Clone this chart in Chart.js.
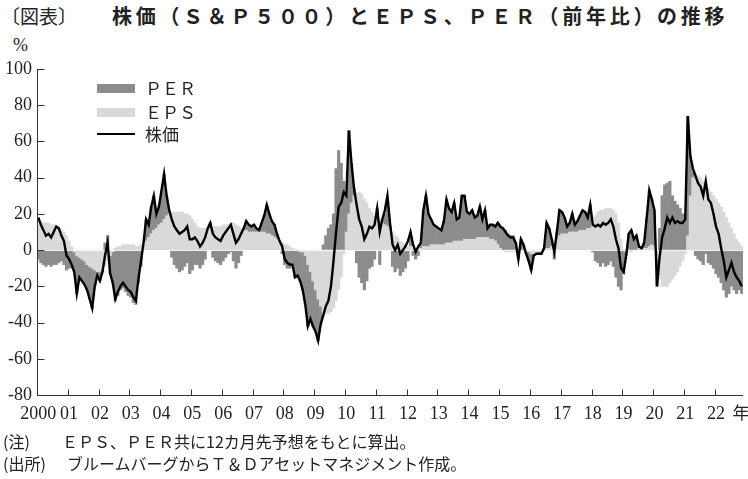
<!DOCTYPE html>
<html>
<head>
<meta charset="utf-8">
<script src="https://cdn.jsdelivr.net/npm/chart.js@4.4.0/dist/chart.umd.min.js"></script>
<style>
  body { margin: 0; width: 748px; height: 479px; position: relative; background: #fff; overflow: hidden; color: #222;
         font-family: "Noto Sans CJK JP", sans-serif; }
  .abs { position: absolute; white-space: nowrap; }
  #wrap { position: absolute; left: 0; top: 0; width: 748px; height: 440px; }
  .sw { position: absolute; left: 97px; width: 38px; }
  .lg { position: absolute; left: 145px; font-size: 17px; line-height: 20px; }
  .note { position: absolute; font-size: 16px; line-height: 20px; }
</style>
</head>
<body>
<div class="abs" style="left:1px;top:3px;font-size:19px;line-height:26px;">〔図表〕</div>
<div class="abs" style="left:112px;top:3px;font-size:20px;line-height:26px;font-weight:bold;letter-spacing:3.7px;">株価（Ｓ＆Ｐ５００）とＥＰＳ、ＰＥＲ（前年比）の推移</div>
<div class="abs" style="left:13px;top:34px;font-size:18px;line-height:22px;font-family:'Liberation Serif',serif;">%</div>

<div id="wrap"><canvas id="chart"></canvas></div>

<div class="sw" style="top:84px;height:9px;background:#8c8c8c;"></div>
<div class="lg" style="top:78px;">ＰＥＲ</div>
<div class="sw" style="top:108px;height:9px;background:#d9d9d9;"></div>
<div class="lg" style="top:102px;">ＥＰＳ</div>
<div class="sw" style="top:133px;height:2px;background:#000;"></div>
<div class="lg" style="top:124px;">株価</div>

<div class="note" style="left:3px;top:431px;">(注)</div>
<div class="note" style="left:62px;top:431px;">ＥＰＳ、ＰＥＲ共に12カ月先予想をもとに算出。</div>
<div class="note" style="left:3px;top:453px;">(出所)</div>
<div class="note" style="left:67px;top:453px;">ブルームバーグからＴ＆Ｄアセットマネジメント作成。</div>

<script>
// year tick labels, one per January
const years = ['2000', '01', '02', '03', '04', '05', '06', '07', '08', '09', '10', '11',
  '12', '13', '14', '15', '16', '17', '18', '19', '20', '21', '22'];

// monthly, Jan 2000 - Nov 2022 (% YoY)
const stock = [
  18, 14, 11, 8, 9, 7, 10, 13, 12, 8, 5, -3,
  -5, -8, -12, -24, -15, -17, -19, -22, -27, -32, -20, -14,
  -17, -12, -3, 4, -13, -18, -27, -23, -20, -18, -20, -22,
  -23, -26, -28, -16, -6, 4, 17, 14, 24, 30, 20, 24,
  33, 42, 30, 22, 17, 13, 11, 9, 10, 11, 13, 6,
  6, 7, 5, 2, 4, 7, 12, 15, 9, 7, 6, 5,
  8, 10, 12, 14, 9, 4, 6, 9, 12, 16, 14, 13,
  14, 12, 11, 15, 19, 25, 20, 16, 14, 9, 5, 2,
  -5, -7, -8, -8, -15, -14, -17, -22, -30, -42, -38, -42,
  -45, -50, -41, -36, -31, -28, -20, -6, 10, 24, 26, 32,
  30, 66, 48, 34, 25, 17, 13, 6, 9, 13, 12, 14,
  23, 10, 17, 22, 30, 15, 3, 0, 3, -2, 0, 2,
  5, 10, 3, -1, 2, 4, 22, 30, 20, 17, 14, 13,
  12, 11, 16, 28, 23, 21, 26, 17, 18, 30, 30, 21,
  20, 22, 18, 19, 24, 17, 22, 12, 14, 14, 13, 15,
  13, 12, 10, 8, 7, 7, 4, -5, 6, 3, -2, -6,
  -11, -3, -2, -2, -2, 1, 15, 12, 6, -1, 10, 22,
  21, 18, 13, 15, 20, 14, 16, 19, 22, 21, 18, 25,
  14, 13, 14, 13, 15, 14, 15, 17, 13, 6, 1, -10,
  -12, -3, 9, 11, 6, 8, 2, 1, 4, 18, 33, 28,
  22, -20, -4, 7, 12, 18, 15, 18, 15, 16, 15, 15,
  17, 74, 52, 45, 41, 37, 35, 30, 38, 28, 26, 20,
  13, 9, 1, -6, -15, -11, -7, -12, -15, -17, -20
];

const eps = [
  14, 15, 15, 15, 15, 14, 14, 13, 12, 11, 10, 8,
  5, 2, -1, -3, -4, -5, -6, -8, -9, -10, -11, -12,
  -12, -11, -9, -6, -3, -1, 1, 2, 2, 3, 3, 3,
  3, 3, 2, 2, 3, 4, 5, 7, 9, 11, 12, 14,
  15, 17, 19, 20, 21, 21, 21, 21, 21, 20, 20, 19,
  17, 15, 13, 12, 12, 12, 12, 12, 13, 13, 13, 13,
  14, 14, 14, 15, 15, 14, 13, 12, 11, 11, 10, 10,
  10, 10, 10, 10, 10, 9, 9, 8, 7, 6, 5, 4,
  3, 3, 2, 1, 0, 0, -1, -1, -3, -8, -12, -17,
  -22, -27, -31, -34, -35, -35, -34, -32, -28, -22, -15, -2,
  10, 20, 26, 30, 32, 32, 31, 28, 26, 23, 21, 19,
  18, 17, 15, 14, 13, 11, 10, 8, 7, 5, 4, 3,
  2, 2, 1, 1, 1, 1, 2, 2, 2, 3, 3, 3,
  3, 3, 3, 4, 4, 4, 5, 5, 5, 5, 6, 6,
  6, 6, 6, 7, 7, 7, 7, 7, 6, 6, 5, 3,
  1, 0, -1, -1, -1, -1, 0, 0, 0, 0, 0, -1,
  -2, -2, -2, -1, -1, 0, 1, 1, 2, 4, 6, 8,
  9, 9, 9, 10, 10, 10, 10, 11, 11, 11, 12, 12,
  15, 19, 21, 22, 22, 23, 23, 23, 22, 20, 15, 6,
  0, -1, -1, -1, 0, 0, 1, 1, 1, 1, 2, 3,
  2, -5, -16, -20, -20, -20, -18, -16, -14, -12, -9, -6,
  -2, 8, 30, 40, 42, 41, 40, 38, 36, 34, 32, 30,
  28, 26, 24, 21, 18, 15, 12, 9, 6, 4, 2
];

const per = [
  -5, -7, -8, -9, -8, -9, -8, -8, -7, -6, -8, -11,
  -10, -10, -11, -21, -11, -12, -13, -14, -18, -22, -9, -2,
  -5, -1, 4, 8, -10, -17, -28, -25, -22, -21, -23, -25,
  -26, -29, -30, -18, -9, 0, 12, 7, 15, 19, 8, 10,
  18, 25, 11, 2, -4, -8, -10, -12, -11, -9, -7, -13,
  -11, -8, -8, -10, -8, -5, 0, 3, -4, -6, -7, -8,
  -6, -4, -2, -1, -6, -10, -7, -3, 1, 5, 4, 3,
  4, 2, 1, 5, 9, 16, 11, 8, 7, 3, 0, -2,
  -8, -10, -10, -9, -15, -14, -16, -21, -27, -34, -26, -25,
  -23, -23, -10, 3, 8, 12, 14, 20, 45, 55, 48, 38,
  20, 46, 22, 4, -7, -15, -18, -22, -17, -10, -9, -5,
  5, -8, 2, 6, 15, 2, -9, -12, -10, -14, -12, -10,
  -6, 6, -3, -5, -3, 2, 20, 28, 18, 14, 11, 10,
  9, 8, 13, 24, 19, 17, 21, 12, 13, 25, 24, 15,
  14, 16, 12, 12, 17, 10, 15, 5, 8, 8, 8, 12,
  12, 12, 11, 9, 8, 8, 4, -5, 6, 3, -2, -5,
  -9, -1, 0, -1, -1, 1, 14, 11, 4, -5, 4, 14,
  12, 9, 4, 5, 10, 4, 6, 8, 11, 10, 6, 13,
  -1, -6, -7, -9, -7, -9, -8, -6, -9, -15, -20, -22,
  -13, -2, 9, 11, 6, 8, 1, 0, 3, 17, 31, 25,
  20, -15, 12, 30, 36, 37, 38, 30, 27, 25, 23, 20,
  18, 66, 22, 3, -3, -5, -6, -8, -2, -7, -8, -10,
  -13, -15, -18, -22, -26, -24, -20, -22, -24, -22, -24
];

const months = [];
years.forEach(y => { for (let m = 1; m <= 12; m++) months.push(y + '/' + m); });
const labels = months.slice(0, stock.length);

const axesPlugin = {
  id: 'axes',
  afterDatasetDraw(chart, args) {
    // thin light line at zero over the areas, under the price line
    if (args.index !== 0) return;
    const { ctx, chartArea: a, scales: { y } } = chart;
    const py = Math.round(y.getPixelForValue(0)) + 0.5;
    ctx.save();
    ctx.strokeStyle = 'rgba(255,255,255,0.8)';
    ctx.lineWidth = 1;
    ctx.beginPath();
    ctx.moveTo(a.left, py);
    ctx.lineTo(a.right, py);
    ctx.stroke();
    ctx.restore();
  },
  afterDraw(chart) {
    const { ctx, chartArea: a, scales: { x, y } } = chart;
    const left = Math.round(a.left) + 0.5;
    const bottom = Math.round(a.bottom) + 0.5;
    ctx.save();
    ctx.strokeStyle = '#333';
    ctx.lineWidth = 1;
    ctx.beginPath();
    ctx.moveTo(left, Math.round(y.getPixelForValue(100)));
    ctx.lineTo(left, bottom);
    ctx.lineTo(a.right, bottom);
    y.ticks.forEach(t => {
      const py = Math.round(y.getPixelForValue(t.value)) + 0.5;
      ctx.moveTo(left, py);
      ctx.lineTo(left + 7, py);
    });
    const half = (x.getPixelForValue(1) - x.getPixelForValue(0)) / 2;
    years.forEach((yr, k) => {
      if (k === 0) return;
      const px = Math.round(x.getPixelForValue(k * 12) - half) + 0.5;
      ctx.moveTo(px, bottom);
      ctx.lineTo(px, bottom - 6);
    });
    ctx.stroke();
    ctx.fillStyle = '#222';
    ctx.font = '17px "Noto Sans CJK JP"';
    ctx.textAlign = 'center';
    ctx.textBaseline = 'middle';
    ctx.fillText('年', a.right - 2, a.bottom + 18);
    ctx.restore();
  }
};

Chart.defaults.font.family = '"Liberation Serif", serif';
Chart.defaults.color = '#222';

new Chart(document.getElementById('chart'), {
  type: 'bar',
  data: {
    labels: labels,
    datasets: [
      { label: 'EPS', data: eps, backgroundColor: '#d9d9d9', stack: 'parts', order: 1,
        categoryPercentage: 1, barPercentage: 1, borderWidth: 0 },
      { label: 'PER', data: per, backgroundColor: '#8c8c8c', stack: 'parts', order: 1,
        categoryPercentage: 1, barPercentage: 1, borderWidth: 0 },
      { type: 'line', label: '株価', data: stock, stack: 'price', order: 0,
        borderColor: '#000', borderWidth: 2.4, pointRadius: 0, tension: 0, fill: false }
    ]
  },
  options: {
    responsive: true,
    maintainAspectRatio: false,
    animation: false,
    layout: { padding: { top: 69, right: 5, left: 0, bottom: 0 } },
    plugins: { legend: { display: false }, tooltip: { enabled: false } },
    scales: {
      x: {
        stacked: true,
        grid: { display: false, drawTicks: false },
        border: { display: false },
        ticks: {
          autoSkip: false, maxRotation: 0, padding: 8,
          font: { size: 18 },
          callback: (v, i) => (i % 12 === 0 ? years[i / 12] : null)
        },
        afterFit: (s) => { s.height = 45; }
      },
      y: {
        stacked: true,
        min: -80, max: 100,
        grid: { display: false, drawTicks: false },
        border: { display: false },
        ticks: { stepSize: 20, padding: 5, font: { size: 18 } },
        afterFit: (s) => { s.width = 37; }
      }
    }
  },
  plugins: [axesPlugin]
});
</script>
</body>
</html>
